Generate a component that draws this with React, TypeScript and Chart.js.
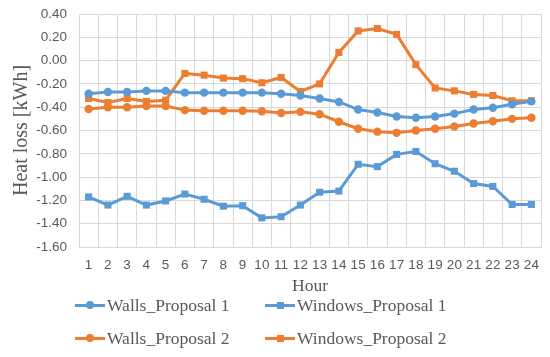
import React, { useEffect, useRef } from "react";
import { Chart, registerables } from "chart.js";

Chart.register(...registerables);

const hours = ["1","2","3","4","5","6","7","8","9","10","11","12","13","14","15","16","17","18","19","20","21","22","23","24"];
const wallsP1 = [-0.285,-0.27,-0.27,-0.26,-0.26,-0.275,-0.275,-0.275,-0.275,-0.275,-0.285,-0.3,-0.325,-0.355,-0.42,-0.445,-0.48,-0.49,-0.48,-0.455,-0.42,-0.405,-0.375,-0.35];
const windowsP1 = [-1.17,-1.24,-1.165,-1.24,-1.205,-1.145,-1.19,-1.25,-1.245,-1.35,-1.34,-1.24,-1.13,-1.12,-0.89,-0.91,-0.805,-0.78,-0.885,-0.95,-1.055,-1.08,-1.235,-1.235];
const wallsP2 = [-0.415,-0.4,-0.4,-0.39,-0.39,-0.425,-0.43,-0.43,-0.43,-0.435,-0.45,-0.44,-0.46,-0.525,-0.585,-0.61,-0.62,-0.6,-0.585,-0.565,-0.54,-0.52,-0.5,-0.49];
const windowsP2 = [-0.325,-0.36,-0.325,-0.35,-0.34,-0.11,-0.125,-0.15,-0.155,-0.19,-0.145,-0.265,-0.2,0.07,0.255,0.275,0.225,-0.035,-0.235,-0.26,-0.29,-0.3,-0.345,-0.345];

const BLUE = "#5B9BD5";
const ORANGE = "#ED7D31";
const GRID = "#d9d9d9";
const TEXT = "#595959";
const SERIF = "'Liberation Serif', serif";
const SANS = "'Liberation Sans', sans-serif";

const legendItems = [
  { label: "Walls_Proposal 1", color: BLUE, shape: "circle", x: 75, y: 305 },
  { label: "Windows_Proposal 1", color: BLUE, shape: "square", x: 265, y: 305 },
  { label: "Walls_Proposal 2", color: ORANGE, shape: "circle", x: 75, y: 338 },
  { label: "Windows_Proposal 2", color: ORANGE, shape: "square", x: 265, y: 338 },
];

export default function App() {
  const ref = useRef<HTMLCanvasElement>(null);
  useEffect(() => {
    if (!ref.current) return;
    const mk = (label: string, data: number[], color: string, style: string, r: number) => ({
      label,
      data,
      borderColor: color,
      backgroundColor: color,
      borderWidth: 3,
      pointStyle: style,
      pointRadius: r,
      pointBorderWidth: 0,
      pointBackgroundColor: color,
      tension: 0,
    });
    const chart = new Chart(ref.current, {
      type: "line",
      data: {
        labels: hours,
        datasets: [
          mk("Walls_Proposal 1", wallsP1, BLUE, "circle", 4.2),
          mk("Windows_Proposal 1", windowsP1, BLUE, "rect", 5),
          mk("Walls_Proposal 2", wallsP2, ORANGE, "circle", 4.2),
          mk("Windows_Proposal 2", windowsP2, ORANGE, "rect", 5),
        ] as any,
      },
      options: {
        animation: false,
        responsive: false,
        maintainAspectRatio: false,
        layout: { padding: { left: 10, right: 9, top: 14, bottom: 58 } },
        plugins: { legend: { display: false }, tooltip: { enabled: false } },
        scales: {
          x: {
            offset: true,
            grid: { color: GRID, lineWidth: 1, offset: true, drawTicks: false },
            border: { color: GRID },
            ticks: { color: TEXT, font: { family: SANS, size: 13.5 }, padding: 10, maxRotation: 0, autoSkip: false },
            title: { display: true, text: "Hour", color: TEXT, font: { family: SERIF, size: 17.5 }, padding: { top: 0, bottom: 2 } },
            afterFit: (s: any) => { s.height = 52; },
          },
          y: {
            min: -1.6,
            max: 0.4,
            grid: { color: GRID, lineWidth: 1, drawTicks: false },
            border: { color: GRID },
            ticks: {
              stepSize: 0.2,
              color: TEXT,
              font: { family: SANS, size: 13.5 },
              padding: 12,
              callback: (v: any) => (Math.abs(v) < 1e-9 ? 0 : Number(v)).toFixed(2),
            },
            title: { display: true, text: "Heat loss [kWh]", color: TEXT, font: { family: SERIF, size: 20 }, padding: { top: 0, bottom: 0 } },
            afterFit: (s: any) => { s.width = 69; s.paddingTop = 0; s.paddingBottom = 0; },
          },
        },
      },
    });
    return () => chart.destroy();
  }, []);

  return (
    <div style={{ position: "fixed", left: 0, top: 0, width: 550, height: 357, background: "#fff" }}>
      <canvas ref={ref} width={550} height={357} style={{ position: "absolute", left: 0, top: 0, width: 550, height: 357 }} />
      {legendItems.map((it) => (
        <div key={it.label} style={{ position: "absolute", left: it.x, top: it.y - 10, height: 20, display: "flex", alignItems: "center", whiteSpace: "nowrap" }}>
          <div style={{ position: "relative", width: 30, height: 20, marginRight: 2 }}>
            <div style={{ position: "absolute", left: 0, top: 8.5, width: 30, height: 3, background: it.color }} />
            <div style={{ position: "absolute", left: it.shape === "circle" ? 11 : 11.5, top: it.shape === "circle" ? 6 : 6.5, width: it.shape === "circle" ? 8 : 7, height: it.shape === "circle" ? 8 : 7, borderRadius: it.shape === "circle" ? "50%" : 0, background: it.color }} />
          </div>
          <span style={{ fontFamily: SERIF, fontSize: 17.5, color: TEXT, lineHeight: "20px" }}>{it.label}</span>
        </div>
      ))}
    </div>
  );
}
